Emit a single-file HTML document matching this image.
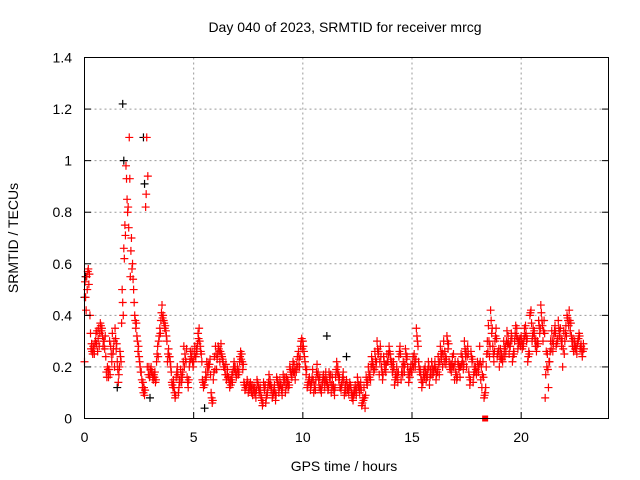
<!DOCTYPE html>
<html><head><meta charset="utf-8"><style>
body{margin:0;background:#fff}
svg{display:block;font-family:"Liberation Sans",sans-serif}
</style></head><body>
<svg id="chart" width="640" height="480">
<rect width="640" height="480" fill="#fff"/>
<g id="grid"></g>
<g id="marks"></g>
<rect x="84.5" y="57.5" width="524" height="361" fill="none" stroke="#000"/>
<g id="axes"></g>
<text x="345" y="32" font-size="14" text-anchor="middle">Day 040 of 2023, SRMTID for receiver mrcg</text>
<text x="344" y="471" font-size="14" text-anchor="middle">GPS time / hours</text>
<text transform="translate(18,238) rotate(-90)" font-size="14" text-anchor="middle">SRMTID / TECUs</text>
</svg>
<script>
const xTicks=[0,5,10,15,20];
const yTicks=[0,0.2,0.4,0.6,0.8,1,1.2,1.4];
const yTickLabels=["0","0.2","0.4","0.6","0.8","1","1.2","1.4"];
const sampleStart=0, sampleStep=0.1;
const redA=[0.22,0.55,0.52,0.27,0.28,0.30,0.26,0.33,0.35,0.30,
0.18,0.16,0.28,0.25,0.35,0.22,0.20,0.37,0.66,0.98,
0.82,0.55,0.60,0.40,0.32,0.24,0.18,0.10,0.82,0.94,
0.17,0.18,0.16,0.22,0.30,0.38,0.40,0.36,0.22,0.24,
0.14,0.12,0.16,0.10,0.19,0.18,0.25,0.16,0.20,0.24,
0.22,0.24,0.33,0.28,0.15,0.13,0.22,0.20,0.10,0.15,
0.28,0.25,0.22,0.24,0.20,0.15,0.16,0.13,0.18,0.20,
0.20,0.22,0.25,0.14,0.12,0.10,0.14,0.09,0.12,0.15,
0.10,0.08,0.14,0.06,0.12,0.15,0.08,0.13,0.16,0.10,
0.13,0.17,0.10,0.15,0.20,0.16,0.21,0.18,0.26,0.28,
0.30,0.22,0.12,0.16,0.14,0.10,0.15,0.18,0.12,0.14,
0.12,0.15,0.18,0.10,0.13,0.16,0.20,0.12,0.14,0.09,
0.15,0.10,0.12,0.07,0.13,0.16,0.10,0.05,0.12,0.16,
0.20,0.15,0.22,0.26,0.30,0.17,0.20,0.24,0.18,0.22,
0.25,0.18,0.13,0.20,0.24,0.15,0.22,0.27,0.20,0.16,
0.18,0.25,0.35,0.22,0.17,0.14,0.20,0.16,0.13,0.22,
0.18,0.15,0.24,0.28,0.20,0.26,0.32,0.22,0.18,0.25,
0.18,0.22,0.16,0.24,0.30,0.20,0.18,0.26,0.14,0.20,
0.22,0.28,0.12,0.08,0.20,0.36,0.42,0.28,0.30,0.24,
0.20,0.25,0.30,0.26,0.32,0.28,0.22,0.30,0.35,0.29,
0.32,0.28,0.36,0.22,0.40,0.30,0.34,0.26,0.38,0.44,
0.30,0.08,0.25,0.22,0.34,0.32,0.28,0.38,0.35,0.20,
0.30,0.40,0.42,0.32,0.26,0.28,0.30,0.27,0.24];
const redB=[0.47,0.57,0.40,0.26,0.25,0.29,0.35,0.36,0.28,0.32,
0.20,0.30,0.22,0.30,0.27,0.14,0.24,0.45,0.75,0.85,
1.09,0.70,0.50,0.35,0.26,0.20,0.12,0.09,1.09,0.20,
0.20,0.15,0.14,0.28,0.35,0.44,0.37,0.32,0.27,0.20,
0.12,0.08,0.20,0.15,0.14,0.28,0.22,0.12,0.26,0.22,
0.28,0.26,0.35,0.25,0.12,0.18,0.18,0.23,0.06,0.24,
0.19,0.27,0.29,0.22,0.17,0.19,0.12,0.17,0.22,0.16,
0.17,0.26,0.19,0.11,0.15,0.13,0.10,0.12,0.08,0.13,
0.12,0.05,0.11,0.09,0.17,0.11,0.10,0.07,0.14,0.15,
0.09,0.14,0.16,0.12,0.18,0.22,0.15,0.24,0.20,0.31,
0.26,0.17,0.14,0.11,0.19,0.13,0.21,0.12,0.10,0.17,
0.18,0.11,0.14,0.16,0.09,0.22,0.15,0.11,0.18,0.13,
0.11,0.14,0.08,0.11,0.09,0.12,0.14,0.08,0.04,0.13,
0.16,0.24,0.18,0.20,0.25,0.28,0.15,0.19,0.25,0.28,
0.21,0.22,0.17,0.14,0.28,0.20,0.18,0.23,0.14,0.21,
0.24,0.20,0.30,0.18,0.12,0.19,0.15,0.22,0.19,0.17,
0.22,0.19,0.17,0.23,0.30,0.21,0.27,0.19,0.24,0.15,
0.15,0.19,0.25,0.19,0.24,0.28,0.13,0.22,0.20,0.17,
0.18,0.15,0.22,0.10,0.30,0.24,0.33,0.22,0.35,0.26,
0.27,0.22,0.24,0.34,0.25,0.33,0.26,0.36,0.27,0.31,
0.27,0.35,0.30,0.26,0.42,0.35,0.28,0.30,0.33,0.38,
0.38,0.26,0.12,0.30,0.26,0.36,0.30,0.32,0.28,0.34,
0.36,0.38,0.34,0.28,0.30,0.25,0.33,0.28,0.29];
const redC=[0.53,0.50,0.56,0.29,0.27,0.33,0.31,0.37,0.32,0.27,
0.16,0.19,0.25,0.27,0.31,0.19,0.26,0.50,0.62,0.93,
0.74,0.65,0.54,0.38,0.30,0.22,0.15,0.12,0.87,0.17,
0.19,0.16,0.18,0.25,0.32,0.41,0.38,0.34,0.25,0.22,
0.13,0.10,0.18,0.12,0.17,0.22,0.23,0.14,0.22,0.26,
0.25,0.27,0.31,0.26,0.14,0.15,0.20,0.21,0.08,0.18,
0.25,0.28,0.26,0.23,0.19,0.17,0.14,0.15,0.20,0.18,
0.19,0.24,0.22,0.13,0.13,0.12,0.12,0.11,0.10,0.14,
0.11,0.07,0.12,0.08,0.14,0.13,0.09,0.10,0.15,0.12,
0.11,0.15,0.13,0.14,0.19,0.19,0.18,0.21,0.23,0.30,
0.28,0.20,0.13,0.14,0.16,0.12,0.18,0.15,0.11,0.16,
0.15,0.13,0.16,0.13,0.11,0.19,0.17,0.12,0.16,0.11,
0.13,0.12,0.10,0.09,0.11,0.14,0.12,0.06,0.08,0.14,
0.18,0.20,0.20,0.23,0.27,0.22,0.18,0.22,0.21,0.25,
0.23,0.20,0.15,0.17,0.26,0.18,0.20,0.25,0.17,0.19,
0.21,0.22,0.32,0.20,0.15,0.17,0.18,0.19,0.16,0.20,
0.20,0.17,0.21,0.25,0.25,0.24,0.30,0.20,0.21,0.20,
0.17,0.21,0.20,0.22,0.27,0.24,0.16,0.24,0.17,0.19,
0.20,0.22,0.17,0.09,0.25,0.30,0.38,0.25,0.32,0.25,
0.24,0.23,0.27,0.30,0.29,0.30,0.24,0.33,0.31,0.30,
0.30,0.31,0.33,0.24,0.41,0.32,0.31,0.28,0.36,0.41,
0.34,0.17,0.19,0.26,0.30,0.34,0.29,0.35,0.31,0.27,
0.33,0.39,0.38,0.30,0.28,0.27,0.31,0.28,0.26];
const redD=[0.42,0.58,0.33,0.25,0.29,0.34,0.28,0.34,0.30,0.24,
0.19,0.17,0.33,0.20,0.29,0.17,0.22,0.40,0.71,0.80,
0.93,0.58,0.45,0.37,0.28,0.18,0.14,0.11,0.20,0.16,
0.18,0.17,0.15,0.24,0.33,0.39,0.35,0.30,0.24,0.18,
0.15,0.09,0.17,0.14,0.16,0.20,0.27,0.15,0.23,0.20,
0.24,0.29,0.30,0.22,0.13,0.16,0.21,0.17,0.07,0.19,
0.23,0.26,0.25,0.20,0.21,0.16,0.15,0.14,0.19,0.17,
0.18,0.23,0.21,0.12,0.14,0.11,0.13,0.10,0.11,0.12,
0.09,0.06,0.13,0.10,0.13,0.12,0.11,0.09,0.13,0.13,
0.12,0.16,0.12,0.13,0.17,0.18,0.19,0.20,0.24,0.27,
0.24,0.19,0.15,0.13,0.15,0.11,0.17,0.16,0.13,0.15,
0.14,0.12,0.17,0.12,0.12,0.18,0.16,0.13,0.15,0.10,
0.12,0.13,0.09,0.10,0.12,0.13,0.11,0.07,0.09,0.15,
0.17,0.21,0.19,0.22,0.26,0.24,0.17,0.21,0.22,0.26,
0.22,0.19,0.16,0.18,0.25,0.17,0.21,0.24,0.18,0.18,
0.20,0.23,0.28,0.19,0.14,0.16,0.17,0.20,0.17,0.19,
0.19,0.18,0.22,0.26,0.22,0.23,0.29,0.21,0.20,0.22,
0.16,0.20,0.21,0.21,0.26,0.25,0.15,0.23,0.18,0.18,
0.21,0.20,0.16,0.12,0.26,0.28,0.35,0.26,0.31,0.27,
0.23,0.24,0.28,0.29,0.28,0.31,0.25,0.32,0.30,0.28,
0.29,0.32,0.31,0.25,0.37,0.33,0.30,0.29,0.35,0.36,
0.33,0.20,0.22,0.27,0.29,0.33,0.31,0.34,0.30,0.25,
0.32,0.36,0.37,0.31,0.27,0.29,0.32,0.26,0.27];
const blackTimes=[0.0,0.05,1.75,1.8,2.7,2.75,11.1,12.0,5.5,1.5,3.0];
const blackValues=[0.47,0.55,1.22,1.0,1.09,0.91,0.32,0.24,0.04,0.12,0.08];
const squareTimes=[18.35];
const squareValues=[0];

const NS="http://www.w3.org/2000/svg";
const X=t=>84.5+t*(524/24);
const Y=v=>418.5-v*(361/1.4);
const grid=document.getElementById('grid'),axes=document.getElementById('axes'),marks=document.getElementById('marks');
function el(tag,attrs,parent){const e=document.createElementNS(NS,tag);for(const k in attrs)e.setAttribute(k,attrs[k]);parent.appendChild(e);return e;}
xTicks.forEach(t=>{
  const x=X(t);
  if(t>0){const g=el('line',{x1:x,x2:x,y1:57.5,y2:418.5,stroke:'#999','stroke-dasharray':'2,3'},grid);
  
  }
  el('line',{x1:x,x2:x,y1:418.5,y2:412,stroke:'#000'},axes);
  const lb=el('text',{x:x,y:442,'font-size':14,'text-anchor':'middle'},axes);lb.textContent=t;
  
  
});
yTicks.forEach((v,i)=>{
  const y=Y(v);
  if(v>0&&v<1.4){const g=el('line',{x1:84.5,x2:608.5,y1:y,y2:y,stroke:'#999','stroke-dasharray':'2,3'},grid);
  
  }
  el('line',{x1:84.5,x2:91,y1:y,y2:y,stroke:'#000'},axes);
  el('line',{x1:608.5,x2:602,y1:y,y2:y,stroke:'#000'},axes);
  const lb=el('text',{x:72,y:y+5,'font-size':14,'text-anchor':'end'},axes);lb.textContent=yTickLabels[i];
  
  
});
function plus(t,v,col,name){
  const x=X(t),y=Y(v);
  const p=el('path',{d:`M${x-4} ${y}h8M${x} ${y-4}v8`,stroke:col,'stroke-width':1.2,fill:'none'},marks);
  
  
}
blackTimes.forEach((t,i)=>plus(t,blackValues[i],'#000','black-point'));
redA.forEach((v,i)=>plus(sampleStart+i*sampleStep,v,'#f00','red-point'));
redC.forEach((v,i)=>plus(sampleStart+i*sampleStep+sampleStep/4,v,'#f00','red-point'));
redB.forEach((v,i)=>plus(sampleStart+i*sampleStep+sampleStep/2,v,'#f00','red-point'));
redD.forEach((v,i)=>plus(sampleStart+i*sampleStep+3*sampleStep/4,v,'#f00','red-point'));
squareTimes.forEach((t,i)=>{
  const s=el('rect',{x:X(t)-3,y:Y(squareValues[i])-3,width:6,height:6,fill:'#f00'},marks);
  
  
});
</script>
</body></html>
